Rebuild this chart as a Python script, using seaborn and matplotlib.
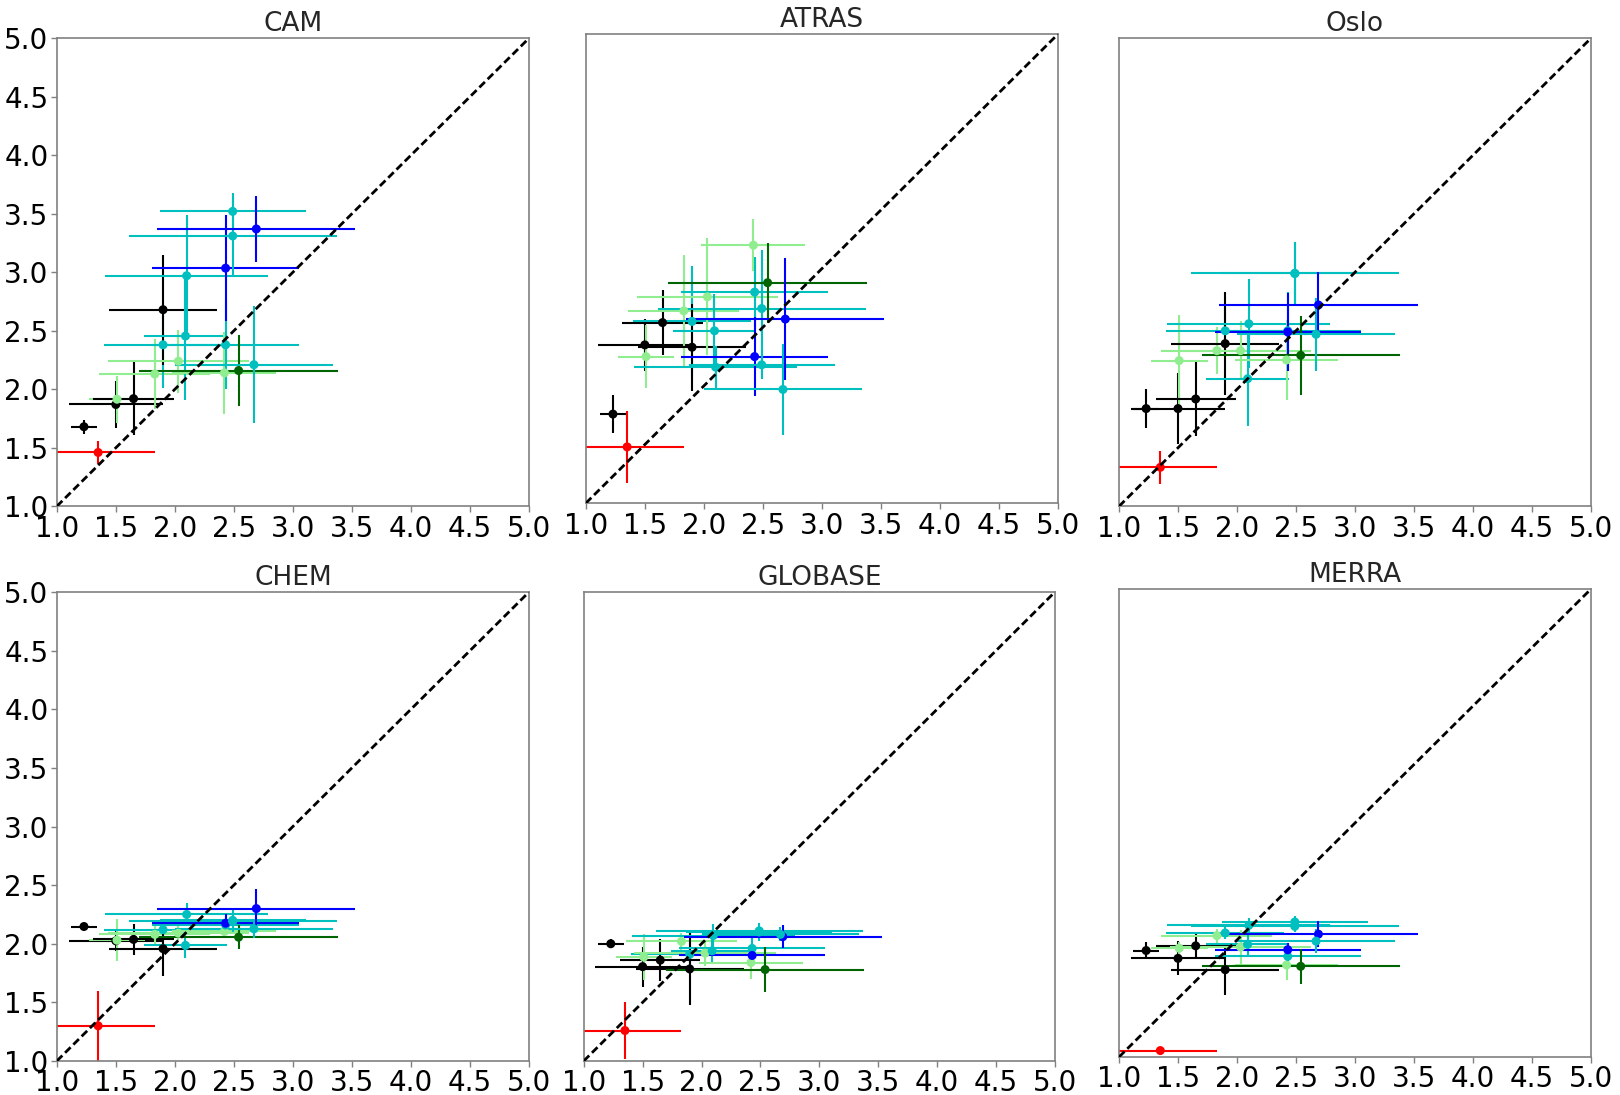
import numpy as np
import pandas as pd
import matplotlib
matplotlib.use("Agg")
import matplotlib.pyplot as plt
import seaborn as sns

# Observed values (x) with their uncertainties, one entry per site
obs_x = [1.23, 1.35, 1.50, 1.51, 1.65, 1.83, 1.90, 1.90, 2.03, 2.09,
         2.10, 2.42, 2.43, 2.43, 2.49, 2.49, 2.54, 2.69, 2.67]
obs_xerr = [0.11, 0.48, 0.40, 0.24, 0.34, 0.47, 0.50, 0.46, 0.60, 0.35,
            0.69, 0.44, 0.62, 0.62, 0.62, 0.88, 0.84, 0.84, 0.67]
site_colors = ['#000000', '#ff0000', '#000000', '#90ee90', '#000000', '#90ee90',
               '#00bfbf', '#000000', '#90ee90', '#00bfbf', '#00bfbf', '#90ee90',
               '#00bfbf', '#0000ff', '#00bfbf', '#00bfbf', '#006400', '#0000ff',
               '#00bfbf']

# Modelled values (y) and uncertainties for each model
cam_y = [1.68, 1.46, 1.87, 1.915, 1.92, 2.13, 2.38, 2.68, 2.24, 2.455,
         2.97, 2.14, 2.38, 3.035, 3.52, 3.31, 2.16, 3.37, 2.21]
cam_yerr = [0.06, 0.10, 0.20, 0.20, 0.31, 0.30, 0.37, 0.47, 0.27, 0.55,
            0.52, 0.35, 0.38, 0.45, 0.16, 0.33, 0.30, 0.28, 0.50]

atras_y = [1.76, 1.48, 2.35, 2.25, 2.54, 2.64, 2.55, 2.33, 2.76, 2.47,
           2.16, 3.20, 2.80, 2.25, 2.18, 2.66, 2.88, 2.57, 1.97]
atras_yerr = [0.16, 0.31, 0.22, 0.27, 0.28, 0.48, 0.47, 0.37, 0.50, 0.31,
              0.18, 0.22, 0.30, 0.34, 0.12, 0.50, 0.34, 0.52, 0.39]

oslo_y = [1.835, 1.333, 1.835, 2.245, 1.917, 2.33, 2.50, 2.39, 2.33, 2.09,
          2.56, 2.25, 2.50, 2.49, 2.99, 2.99, 2.29, 2.72, 2.47]
oslo_yerr = [0.17, 0.14, 0.30, 0.39, 0.32, 0.20, 0.20, 0.44, 0.25, 0.40,
             0.38, 0.34, 0.33, 0.33, 0.26, 0.27, 0.34, 0.28, 0.31]

chem_y = [2.147, 1.30, 2.025, 2.03, 2.037, 2.08, 2.12, 1.958, 2.09, 1.986,
          2.25, 2.105, 2.16, 2.175, 2.20, 2.19, 2.056, 2.30, 2.127]
chem_yerr = [0.03, 0.30, 0.09, 0.18, 0.13, 0.08, 0.08, 0.23, 0.06, 0.11,
             0.10, 0.06, 0.08, 0.08, 0.10, 0.08, 0.10, 0.17, 0.08]

globase_y = [2.00, 1.26, 1.805, 1.887, 1.86, 2.02, 1.91, 1.785, 1.92, 1.94,
             2.07, 1.84, 1.96, 1.90, 2.10, 2.11, 1.78, 2.06, 2.08]
globase_yerr = [0.04, 0.24, 0.17, 0.20, 0.18, 0.07, 0.10, 0.31, 0.11, 0.10,
                0.10, 0.14, 0.10, 0.08, 0.08, 0.06, 0.19, 0.10, 0.06]

merra_y = [1.91, 1.055, 1.843, 1.93, 1.95, 2.037, 2.06, 1.746, 1.94, 1.963,
           2.125, 1.786, 1.86, 1.917, 2.154, 2.117, 1.775, 2.05, 1.99]
merra_yerr = [0.07, 0.02, 0.145, 0.05, 0.10, 0.06, 0.05, 0.22, 0.145, 0.11,
              0.06, 0.13, 0.10, 0.06, 0.05, 0.05, 0.15, 0.11, 0.10]

model_names = ['CAM', 'ATRAS', 'Oslo', 'CHEM', 'GLOBASE', 'MERRA']
model_y = [cam_y, atras_y, oslo_y, chem_y, globase_y, merra_y]
model_yerr = [cam_yerr, atras_yerr, oslo_yerr, chem_yerr, globase_yerr, merra_yerr]

axis_ticks = [1.0, 1.5, 2.0, 2.5, 3.0, 3.5, 4.0, 4.5, 5.0]

sns.set_theme(style="white", color_codes=False)
plt.rcParams['font.family'] = ['DejaVu Sans']
plt.rcParams['axes.edgecolor'] = '#808080'
plt.rcParams['xtick.color'] = '#808080'
plt.rcParams['ytick.color'] = '#808080'
plt.rcParams['xtick.labelcolor'] = 'black'
plt.rcParams['ytick.labelcolor'] = 'black'

W, H = 1620, 1095
fig = plt.figure(figsize=(W / 100, H / 100), dpi=100)

# panel boxes in pixels: left, right, top, bottom
boxes = [
    (56.8, 529.0, 38.2, 506.3),
    (585.8, 1058.0, 34.1, 503.2),
    (1119.0, 1591.0, 38.2, 506.3),
    (56.8, 529.0, 592.0, 1061.0),
    (583.7, 1054.9, 592.0, 1061.0),
    (1119.0, 1591.0, 589.0, 1057.0),
]

palette = {c: c for c in set(site_colors)}

for i, (name, ys, yerrs) in enumerate(zip(model_names, model_y, model_yerr)):
    x0, x1, y0, y1 = boxes[i]
    ax = fig.add_axes([x0 / W, 1 - y1 / H, (x1 - x0) / W, (y1 - y0) / H])
    df = pd.DataFrame({'obs': obs_x, 'xerr': obs_xerr, 'model': ys,
                       'yerr': yerrs, 'color': site_colors})
    for _, r in df.iterrows():
        ax.errorbar(r['obs'], r['model'], xerr=r['xerr'], yerr=r['yerr'],
                    fmt='none', ecolor=r['color'], elinewidth=1.5,
                    capsize=0, zorder=2)
    sns.scatterplot(data=df, x='obs', y='model', hue='color', palette=palette,
                    s=42, linewidth=0, legend=False, ax=ax, zorder=3)
    ax.plot([1, 5], [1, 5], color='black', lw=2, ls=(0, (2.8, 1.4)), zorder=4)
    ax.set_xlim(1, 5)
    ax.set_ylim(1, 5)
    ax.set_xticks(axis_ticks)
    ax.set_xticklabels([f"{t:.1f}" for t in axis_ticks], fontsize=20)
    if i % 3 == 0:
        ax.set_yticks(axis_ticks)
        ax.set_yticklabels([f"{t:.1f}" for t in axis_ticks], fontsize=20)
    else:
        ax.set_yticks([])
    ax.tick_params(axis='both', which='both', length=4, width=1,
                   bottom=True, left=(i % 3 == 0), pad=2)
    ax.set_xlabel('')
    ax.set_ylabel('')
    ax.set_title(name, fontsize=19, pad=5)
    for sp in ax.spines.values():
        sp.set_color('#808080')
        sp.set_linewidth(1.2)

fig.savefig('out.png', dpi=100)
